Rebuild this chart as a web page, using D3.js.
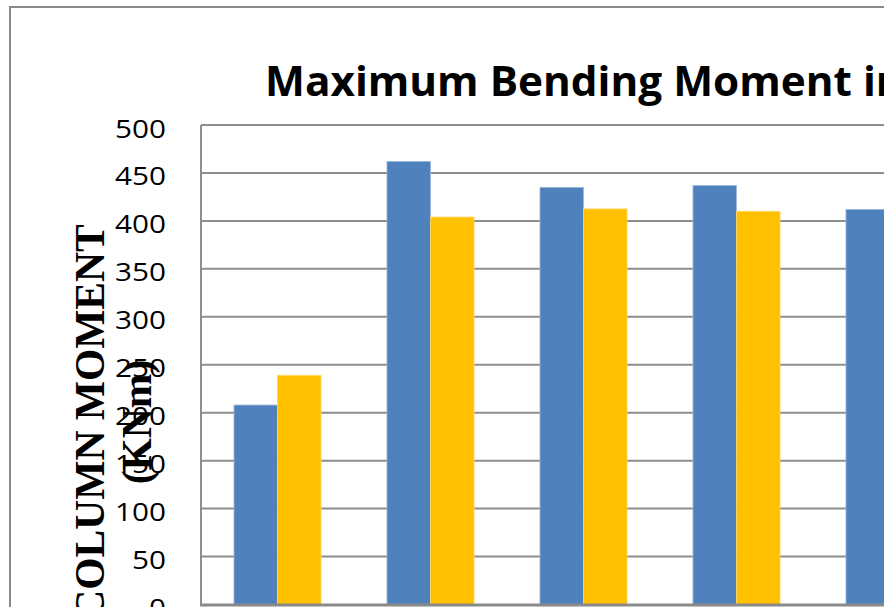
<!DOCTYPE html>
<html>
<head>
<meta charset="utf-8">
<script src="https://cdn.jsdelivr.net/npm/d3@7"></script>
<style>
  html, body { margin: 0; padding: 0; background: #fff; overflow: hidden; }
  svg { display: block; }
</style>
</head>
<body>
<script>
// Column moments per case (kN·m), two series
const categories = ["1", "2", "3", "4", "5"];
const seriesBlue = [208, 462, 435, 437, 412];
const seriesGold = [239, 404, 412.5, 410, null];
const yTicks = [0, 50, 100, 150, 200, 250, 300, 350, 400, 450, 500];
const titleText = "Maximum Bending Moment in";
const yTitleLines = ["COLUMN MOMENT", "(KNm)"];

const W = 884, H = 607;
const svg = d3.select("body").append("svg").attr("width", W).attr("height", H);

// chart frame
svg.append("path")
  .attr("d", `M10,${H + 5} L10,7 L${W + 5},7`)
  .attr("fill", "none").attr("stroke", "#8a8a8a").attr("stroke-width", 2);

const plot = { left: 201, top: 125, bottom: 604.5, step: 153 };

const x = d3.scaleBand()
  .domain(categories)
  .range([plot.left, plot.left + plot.step * categories.length])
  .paddingInner(0.431)
  .paddingOuter(0.2155);

const y = d3.scaleLinear().domain([0, 500]).range([plot.bottom, plot.top]);

// gridlines
svg.append("g").selectAll("line").data(yTicks.filter(d => d > 0)).join("line")
  .attr("x1", plot.left).attr("x2", W + 5)
  .attr("y1", d => y(d)).attr("y2", d => y(d))
  .attr("stroke", "#8e8e8e").attr("stroke-width", 2);

// left frame of plot
svg.append("line")
  .attr("x1", plot.left).attr("x2", plot.left)
  .attr("y1", y(500)).attr("y2", y(0) + 1)
  .attr("stroke", "#8e8e8e").attr("stroke-width", 2);

// bars
const sub = d3.scaleBand().domain(["blue", "gold"]).range([0, x.bandwidth()]);
const rows = categories.map((c, i) => ({ c, blue: seriesBlue[i], gold: seriesGold[i] }));
const colors = { blue: "#4f81bd", gold: "#ffc000" };
const edges = { blue: "#9db8de", gold: "#ffd766" };

const g = svg.append("g").selectAll("g").data(rows).join("g")
  .attr("transform", d => `translate(${x(d.c)},0)`);
g.selectAll("rect")
  .data(d => ["blue", "gold"].filter(k => d[k] != null).map(k => ({ k, v: d[k] })))
  .join("rect")
  .attr("x", d => sub(d.k))
  .attr("width", sub.bandwidth())
  .attr("y", d => y(d.v))
  .attr("height", d => y(0) - y(d.v))
  .attr("fill", d => colors[d.k])
  .attr("stroke", d => edges[d.k]).attr("stroke-width", 0.8);

// x axis baseline
svg.append("line")
  .attr("x1", plot.left - 1).attr("x2", W + 5)
  .attr("y1", y(0) + 0.5).attr("y2", y(0) + 0.5)
  .attr("stroke", "#8a8a8a").attr("stroke-width", 3);

// y tick labels (wide Calibri-like digits)
const tickG = svg.append("g");
const tl = tickG.selectAll("text").data(yTicks).join("text")
  .attr("text-anchor", "end")
  .attr("font-family", "'Open Sans', sans-serif")
  .attr("font-size", 25.5)
  .attr("fill", "#000")
  .text(d => d);
const refW = tl.filter(d => d === 500).node().getComputedTextLength();
const tsx = 51 / refW;
tl.attr("transform", d => `translate(166,${y(d) + 12.5}) scale(${tsx},1)`);

// y axis title (two lines, rotated)
const yt = svg.append("text")
  .attr("transform", "translate(0,422) rotate(-90)")
  .attr("text-anchor", "middle")
  .attr("font-family", "'Liberation Serif', 'Times New Roman', serif")
  .attr("font-weight", "bold")
  .attr("font-size", 41.5)
  .attr("fill", "#000");
yt.selectAll("tspan").data(yTitleLines).join("tspan")
  .attr("x", 0)
  .attr("y", (d, i) => i === 0 ? 104 : 151)
  .text(d => d);

// chart title
const title = svg.append("text")
  .attr("font-family", "'Open Sans', sans-serif")
  .attr("font-weight", "bold")
  .attr("font-size", 40.5)
  .attr("fill", "#000")
  .text(titleText);
const headW = title.node().getSubStringLength(0, 23);
const sx = (863 - 265) / headW;
title.attr("transform", `translate(265,96) scale(${sx},1)`);
</script>
</body>
</html>
